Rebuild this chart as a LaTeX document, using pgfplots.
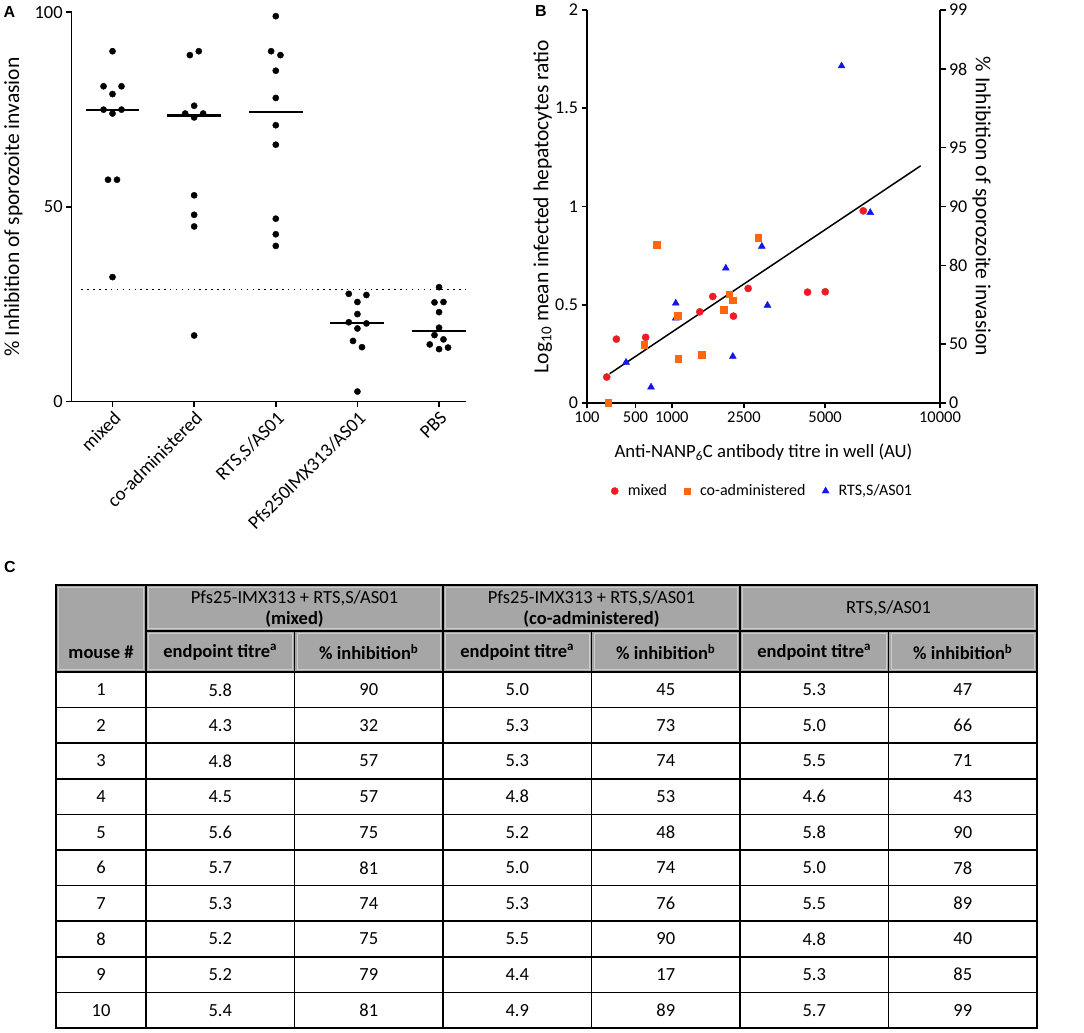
\documentclass[border=0pt]{standalone}
\usepackage{fontspec}
\setmainfont{Carlito}
\newfontfamily\letterfont{Liberation Sans}
\usepackage{pgfplots}
\pgfplotsset{compat=1.18}

\definecolor{mixred}{RGB}{237,28,36}
\definecolor{coorange}{RGB}{255,102,16}
\definecolor{rtsblue}{RGB}{20,20,235}
\definecolor{hdrgray}{RGB}{166,166,166}
\definecolor{hdrlight}{RGB}{205,205,205}

\newcommand{\fs}[1]{\fontsize{#1}{#1}\selectfont}

\pgfplotsset{
  prism/.style={
    scale only axis,
    axis line style={line width=1.6pt},
    every tick/.style={black, line width=1.6pt},
    major tick length=5.5pt,
    tick align=outside,
    /pgf/number format/assume math mode=true,
    clip=false,
  },
}

\begin{document}
\begin{tikzpicture}
\path[use as bounding box] (0pt,0pt) rectangle (1084pt,1033pt);

% ---- panel A: dot plot
\begin{axis}[prism,
  at={(71.7pt,631.3pt)}, anchor=south west, width=394.3pt, height=389.4pt,
  xmin=0.5, xmax=5.33, ymin=0, ymax=100,
  axis x line*=bottom, axis y line*=left,
  xtick={1,2,3,4,5},
  xticklabels={mixed,co-administered,{RTS,S/AS01},Pfs250IMX313/AS01,PBS},
  xticklabel style={font=\fs{19}, rotate=45, anchor=north east, inner sep=2pt},
  ytick={0,50,100}, yticklabel style={font=\fs{18.5}},
  ylabel={\% Inhibition of sporozoite invasion},
  ylabel style={font=\fs{21.5}, at={(axis description cs:-0.148,0.5)}, anchor=center},
]
% threshold
\addplot[black, line width=1.5pt, dash pattern=on 1.5pt off 4.4pt] coordinates {(0.62,28.8) (5.33,28.8)};
% medians
\addplot[black, line width=2.1pt] coordinates {(0.67,75) (1.33,75)};
\addplot[black, line width=2.1pt] coordinates {(1.67,73.5) (2.33,73.5)};
\addplot[black, line width=2.1pt] coordinates {(2.67,74.5) (3.33,74.5)};
\addplot[black, line width=2.1pt] coordinates {(3.67,20.3) (4.33,20.3)};
\addplot[black, line width=2.1pt] coordinates {(4.67,18.05) (5.33,18.05)};
% mixed
\addplot[only marks, mark=*, mark size=3.1pt, black] coordinates {
  (1,90) (0.89,81) (1.11,81) (1,79) (0.89,75) (1.11,75) (1,74) (0.945,57) (1.055,57) (1,32)};
% co-administered
\addplot[only marks, mark=*, mark size=3.1pt, black] coordinates {
  (1.947,89) (2.057,90) (2,76) (1.89,74) (2.11,74) (2,73) (2,53) (2,48) (2,45) (2,17)};
% RTS,S/AS01
\addplot[only marks, mark=*, mark size=3.1pt, black] coordinates {
  (3,99) (2.943,90) (3.057,89) (3,85) (3,78) (3,71) (3,66) (3,47) (3,43) (3,40)};
% Pfs250IMX313/AS01
\addplot[only marks, mark=*, mark size=3.1pt, black] coordinates {
  (3.894,27.7) (4.11,27.4) (4,25.6) (4,22.5) (3.894,20.4) (4.11,20.1) (4,18.8) (3.946,15.6) (4.056,14.0) (4,2.6)};
% PBS
\addplot[only marks, mark=*, mark size=3.1pt, black] coordinates {
  (5,29.4) (4.944,25.5) (5.054,25.6) (5,23.0) (5,19.0) (4.944,17.1) (5.054,16.0) (4.886,14.7) (5,13.5) (5.11,13.9)};
\end{axis}

% ---- panel B: titre vs inhibition, square-root x axis
\begin{axis}[prism,
  at={(587pt,630pt)}, anchor=south west, width=353pt, height=393pt,
  x coord trafo/.code={\pgfmathparse{sqrt(#1)}},
  xmin=100, xmax=10000, ymin=0, ymax=2,
  axis x line*=bottom, axis y line*=left,
  xtick={100,500,1000,2500,5000,10000},
  xticklabels={100,500,1000,2500,5000,10000},
  ytick={0,0.5,1,1.5,2}, yticklabels={0,0.5,1,1.5,2},
  xticklabel style={font=\fs{16.5}},
  yticklabel style={font=\fs{18}},
  xlabel={Anti-NANP\textsubscript{6}C antibody titre in well (AU)},
  xlabel style={font=\fs{18.7}, at={(axis description cs:0.5,-0.125)}, anchor=center},
  ylabel={Log\textsubscript{10} mean infected hepatocytes ratio},
  ylabel style={font=\fs{21.5}, at={(axis description cs:-0.1255,0.5)}, anchor=center},
  legend columns=3, reverse legend,
  legend style={draw=none, fill=none, font=\fs{16},
    at={(axis description cs:0.494,-0.224)}, anchor=center,
    /tikz/every even column/.append style={column sep=12pt}},
  legend image code/.code={\path[draw=none] (0pt,0pt) -- (17pt,0pt);
    \draw[#1] plot coordinates {(6pt,0pt)};},
]
\addplot[black, line width=1.5pt, forget plot] coordinates {(249,0.149) (9038,1.207)};
\addplot[only marks, mark=triangle*, mark size=4pt, color=rtsblue] coordinates {
  (398,0.207) (693,0.081) (1065,0.508) (1065,0.432) (2060,0.686)
  (2226,0.237) (2978,0.797) (3138,0.497) (5610,1.715) (6760,0.969)};
\addlegendentry{RTS,S/AS01}
\addplot[only marks, mark=square*, mark size=3.3pt, color=coorange] coordinates {
  (238,0) (603,0.297) (772,0.805) (1098,0.444) (1104,0.225)
  (1535,0.247) (2014,0.476) (2138,0.553) (2218,0.524) (2877,0.842)};
\addlegendentry{co-administered}
\addplot[only marks, mark=*, mark size=3.6pt, color=mixred] coordinates {
  (226,0.132) (306,0.325) (623,0.334) (1502,0.464) (1770,0.542)
  (2241,0.442) (2610,0.583) (4386,0.564) (5004,0.566) (6470,0.978)};
\addlegendentry{mixed}
\end{axis}

\begin{axis}[prism,
  at={(587pt,630pt)}, anchor=south west, width=353pt, height=393pt,
  xmin=0, xmax=1, ymin=0, ymax=2,
  axis x line=none, axis y line*=right,
  ytick={0,0.30103,0.69897,1,1.30103,1.69897,2},
  yticklabels={0,50,80,90,95,98,99},
  yticklabel style={font=\fs{18}},
  ylabel={\% Inhibition of sporozoite invasion},
  ylabel style={font=\fs{21.5}, at={(axis description cs:1.118,0.5)}, anchor=center, rotate=180},
]
\end{axis}

% ---- panel letters
\node[font=\letterfont\bfseries\fs{16}] at (9.5pt,1021pt) {A};
\node[font=\letterfont\bfseries\fs{16}] at (541pt,1022pt) {B};
\node[font=\letterfont\bfseries\fs{16}] at (10pt,466pt) {C};

% ---- panel C: table
\begin{scope}[shift={(0pt,1033pt)}, x=1pt, y=-1pt]
\fill[hdrgray] (56,585) rectangle (1037,672);
% light inner edges of the header cells
\begin{scope}[hdrlight, line width=0.8pt]
\draw (58.5,587.5) rectangle (143.5,669.5);
\foreach \xa/\xb in {146/443,443/740,740/1037} \draw (\xa+2.5,587.5) rectangle (\xb-2.5,628.5);
\foreach \xa/\xb in {146/294.5,294.5/443,443/591.5,591.5/740,740/888.5,888.5/1037}
  \draw (\xa+2.5,633.5) rectangle (\xb-2.5,669.5);
\end{scope}
\foreach \k in {1,...,9} \draw[line width=1.6pt] (56,{672+35.6*\k}) -- (1037,{672+35.6*\k});
\draw[line width=1.6pt] (146,631) -- (1037,631);
\foreach \x in {294.5,591.5,888.5} \draw[line width=1.6pt] (\x,631) -- (\x,1028);
\foreach \x in {443,740} \draw[line width=2pt] (\x,585) -- (\x,1028);
\draw[line width=2.4pt] (146,585) -- (146,1028);
\draw[line width=2.4pt] (56,672) -- (1037,672);
\draw[line width=2.4pt] (56,585) rectangle (1037,1028);

\begin{scope}[every node/.style={font=\fs{18.5}, inner sep=0pt}]
\node[align=center, font=\fontsize{18.5}{21}\selectfont] at (294.5,609) {Pfs25-IMX313 + RTS,S/AS01\\\textbf{(mixed)}};
\node[align=center, font=\fontsize{18.5}{21}\selectfont] at (591.5,609) {Pfs25-IMX313 + RTS,S/AS01\\\textbf{(co-administered)}};
\node at (888.5,608) {RTS,S/AS01};
\node at (101,652) {\textbf{mouse \#}};
\foreach \cx in {220.25,517.25,814.25} \node at (\cx,652) {\textbf{endpoint titre\textsuperscript{a}}};
\foreach \cx in {368.75,665.75,962.75} \node at (\cx,652) {\textbf{\% inhibition\textsuperscript{b}}};
\foreach \m/\a/\b/\c/\d/\e/\f [count=\i] in {
  1/5.8/90/5.0/45/5.3/47, 2/4.3/32/5.3/73/5.0/66, 3/4.8/57/5.3/74/5.5/71,
  4/4.5/57/4.8/53/4.6/43, 5/5.6/75/5.2/48/5.8/90, 6/5.7/81/5.0/74/5.0/78,
  7/5.3/74/5.3/76/5.5/89, 8/5.2/75/5.5/90/4.8/40, 9/5.2/79/4.4/17/5.3/85,
  10/5.4/81/4.9/89/5.7/99}{
  \pgfmathsetmacro\yy{672+35.6*(\i-0.5)}
  \node at (101,\yy) {\m};
  \node at (220.25,\yy) {\a};
  \node at (368.75,\yy) {\b};
  \node at (517.25,\yy) {\c};
  \node at (665.75,\yy) {\d};
  \node at (814.25,\yy) {\e};
  \node at (962.75,\yy) {\f};
}
\end{scope}
\end{scope}
\end{tikzpicture}
\end{document}
